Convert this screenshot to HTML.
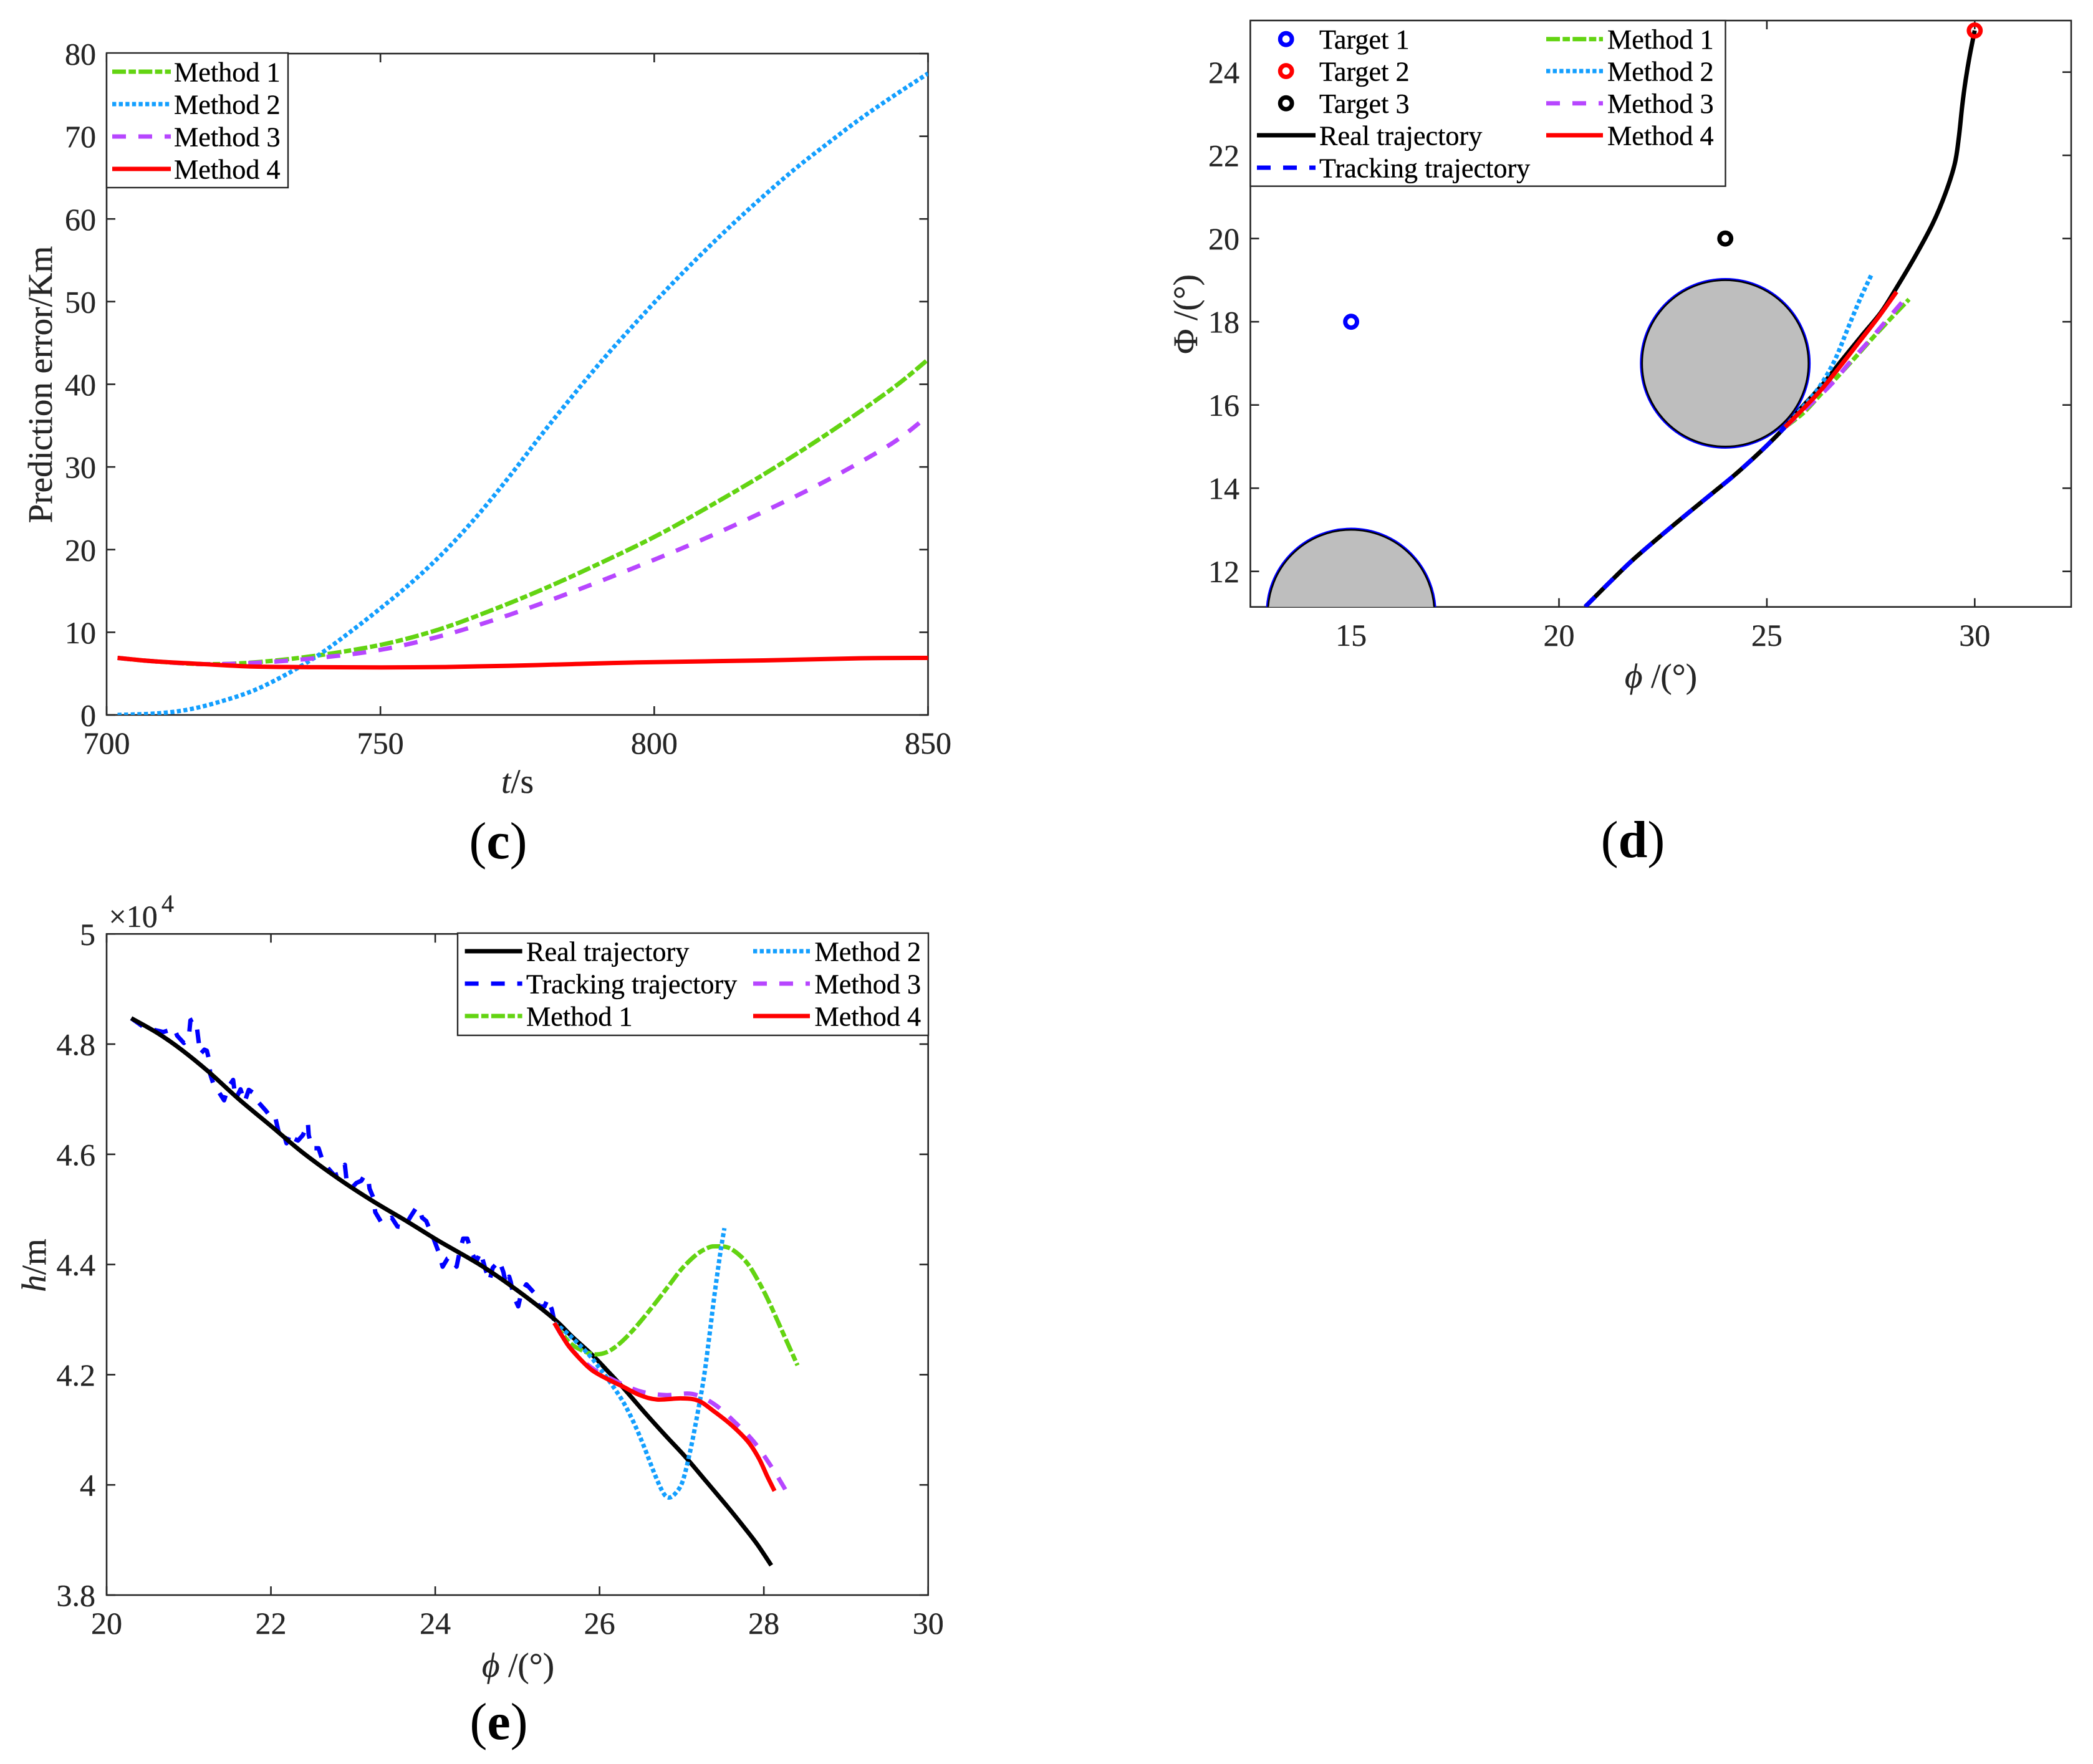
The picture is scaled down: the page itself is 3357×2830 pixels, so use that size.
<!DOCTYPE html>
<html lang="en">
<head>
<meta charset="utf-8">
<title>Prediction and trajectory comparison charts</title>
<style>
html,body{margin:0;padding:0;background:#fff;}
svg{display:block;}
text{font-family:"Liberation Serif","DejaVu Serif",serif;fill:#262626;stroke:#262626;stroke-width:0.35;}
.tick{font-size:50px;}
.title{font-size:55px;}
.leg{font-size:44.2px;fill:#000;stroke:#000;}
.panel{font-size:84px;fill:#000;stroke:none;}
.frame{fill:none;stroke:#262626;stroke-width:2.6;}
.legbox{fill:#fff;stroke:#262626;stroke-width:2.4;}
.m1{stroke:#63D412;stroke-dasharray:22 4.3 11.7 4.3;}
.m2{stroke:#139FFF;stroke-dasharray:6.4 4.2;}
.m3{stroke:#B746FF;stroke-dasharray:22 20;}
.m4{stroke:#FF0000;}
.real{stroke:#000;}
.track{stroke:#0000FF;stroke-dasharray:22 20;}
.ll{stroke-width:7;fill:none;}
.mk{fill:none;stroke-width:7;}
</style>
</head>
<body>
<svg id="figure" xmlns="http://www.w3.org/2000/svg" width="3357" height="2830" viewBox="0 0 3357 2830">
<rect x="0" y="0" width="3357" height="2830" fill="#fff"/>
<defs>
<clipPath id="clip-c"><rect x="171" y="86" width="1317.5" height="1061"/></clipPath>
<clipPath id="clip-d"><rect x="2005.5" y="33" width="1316.5" height="940.7"/></clipPath>
<clipPath id="clip-e"><rect x="171" y="1498.3" width="1317.7" height="1060.7"/></clipPath>
</defs>

<g id="chart-c">
  <rect class="frame" x="171" y="86" width="1317.5" height="1061"/>
  <g id="c-axis"></g>
  <g id="c-marks" clip-path="url(#clip-c)"></g>
  <text class="title" x="830" y="1272" text-anchor="middle"><tspan font-style="italic">t</tspan>/s</text>
  <text class="title" transform="translate(83,617) rotate(-90)" text-anchor="middle">Prediction error/Km</text>
  <g>
    <rect class="legbox" x="171" y="85" width="291" height="216"/>
    <line class="ll m1" x1="180" x2="274" y1="115" y2="115"/>
    <text class="leg" x="279" y="130.5">Method 1</text>
    <line class="ll m2" x1="180" x2="274" y1="167" y2="167"/>
    <text class="leg" x="279" y="182.5">Method 2</text>
    <line class="ll m3" x1="180" x2="274" y1="219" y2="219"/>
    <text class="leg" x="279" y="234.5">Method 3</text>
    <line class="ll m4" x1="180" x2="274" y1="271" y2="271"/>
    <text class="leg" x="279" y="286.5">Method 4</text>
  </g>
  <text class="panel" x="799" y="1377" text-anchor="middle">(<tspan font-weight="bold">c</tspan>)</text>
</g>

<g id="chart-d">
  <rect class="frame" x="2005.5" y="33" width="1316.5" height="940.7"/>
  <g id="d-axis"></g>
  <g id="d-marks" clip-path="url(#clip-d)"></g>
  <text class="title" x="2664" y="1103" text-anchor="middle"><tspan font-style="italic">ϕ</tspan> /(°)</text>
  <text class="title" transform="translate(1920,504) rotate(-90)" text-anchor="middle">Φ /(°)</text>
  <g>
    <rect class="legbox" x="2005.5" y="33" width="762" height="265.7"/>
    <circle class="mk" cx="2062.7" cy="62.7" r="9.4" stroke="#0000FF"/>
    <text class="leg" x="2116" y="78">Target 1</text>
    <circle class="mk" cx="2062.7" cy="114" r="9.4" stroke="#FF0000"/>
    <text class="leg" x="2116" y="129.5">Target 2</text>
    <circle class="mk" cx="2062.7" cy="165.7" r="9.4" stroke="#000"/>
    <text class="leg" x="2116" y="181">Target 3</text>
    <line class="ll real" x1="2016" x2="2110" y1="217" y2="217"/>
    <text class="leg" x="2116" y="232.5">Real trajectory</text>
    <line class="ll track" x1="2016" x2="2110" y1="269" y2="269"/>
    <text class="leg" x="2116" y="284.5">Tracking trajectory</text>
    <line class="ll m1" x1="2480" x2="2571" y1="62.7" y2="62.7"/>
    <text class="leg" x="2578" y="78">Method 1</text>
    <line class="ll m2" x1="2480" x2="2571" y1="114" y2="114"/>
    <text class="leg" x="2578" y="129.5">Method 2</text>
    <line class="ll m3" x1="2480" x2="2571" y1="165.7" y2="165.7"/>
    <text class="leg" x="2578" y="181">Method 3</text>
    <line class="ll m4" x1="2480" x2="2571" y1="217" y2="217"/>
    <text class="leg" x="2578" y="232.5">Method 4</text>
  </g>
  <text class="panel" x="2619" y="1375" text-anchor="middle">(<tspan font-weight="bold">d</tspan>)</text>
</g>

<g id="chart-e">
  <rect class="frame" x="171" y="1498.3" width="1317.7" height="1060.7"/>
  <g id="e-axis"></g>
  <g id="e-marks" clip-path="url(#clip-e)"></g>
  <text class="title" x="831" y="2690" text-anchor="middle"><tspan font-style="italic">ϕ</tspan> /(°)</text>
  <text class="title" transform="translate(73,2030) rotate(-90)" text-anchor="middle"><tspan font-style="italic">h</tspan>/m</text>
  <text class="tick" x="174.5" y="1487">×10</text>
  <text x="259" y="1463" font-size="40">4</text>
  <g>
    <rect class="legbox" x="734" y="1497" width="755" height="164"/>
    <line class="ll real" x1="745.6" x2="837.6" y1="1526" y2="1526"/>
    <text class="leg" x="844" y="1541.5">Real trajectory</text>
    <line class="ll track" x1="745.6" x2="837.6" y1="1578" y2="1578"/>
    <text class="leg" x="844" y="1593.5">Tracking trajectory</text>
    <line class="ll m1" x1="745.6" x2="837.6" y1="1630" y2="1630"/>
    <text class="leg" x="844" y="1645.5">Method 1</text>
    <line class="ll m2" x1="1208" x2="1299" y1="1526" y2="1526"/>
    <text class="leg" x="1306.5" y="1541.5">Method 2</text>
    <line class="ll m3" x1="1208" x2="1299" y1="1578" y2="1578"/>
    <text class="leg" x="1306.5" y="1593.5">Method 3</text>
    <line class="ll m4" x1="1208" x2="1299" y1="1630" y2="1630"/>
    <text class="leg" x="1306.5" y="1645.5">Method 4</text>
  </g>
  <text class="panel" x="800" y="2790" text-anchor="middle">(<tspan font-weight="bold">e</tspan>)</text>
</g>
</svg>

<script>
// ----- Chart (c): prediction error over time -----
var cXTicks = [700, 750, 800, 850];
var cYTicks = [0, 10, 20, 30, 40, 50, 60, 70, 80];
var cM1T = [702, 708.4, 717.7, 727, 738.6, 750.2, 759.5, 767.7, 779.3, 790.9, 800.2, 808.4, 820, 831.6, 843.3, 850];
var cM1E = [6.9, 6.5, 6.15, 6.36, 7.2, 8.5, 10.1, 12, 15.1, 18.6, 21.6, 24.6, 29.1, 34, 39.4, 43];
var cM2T = [702, 709.5, 715.3, 721.2, 727, 732.8, 738.6, 744.4, 750.2, 756, 761.9, 767.7, 773.5, 779.3, 785.1, 790.9, 796.7, 802.6, 808.4, 814.2, 820, 825.8, 831.6, 837.4, 843.3, 850];
var cM2E = [0, 0.2, 0.7, 1.7, 3, 4.9, 7.2, 10, 13, 16.2, 19.9, 24.1, 28.8, 33.8, 38.6, 43.2, 47.5, 51.7, 55.6, 59.3, 62.8, 66.1, 69.1, 72, 74.7, 77.6];
var cM3T = [702, 708.4, 717.7, 727, 738.6, 750.2, 761.9, 773.5, 785.1, 796.7, 808.4, 820, 831.6, 843.3, 850];
var cM3E = [6.9, 6.5, 6.15, 6.3, 6.9, 7.9, 9.7, 12.1, 14.9, 17.9, 21.1, 24.6, 28.4, 32.8, 36.2];
var cM4T = [702, 708.4, 717.7, 727, 738.6, 750.2, 761.9, 773.5, 785, 796.7, 820, 837.4, 850];
var cM4E = [6.9, 6.5, 6.15, 5.85, 5.78, 5.75, 5.8, 5.95, 6.15, 6.35, 6.6, 6.85, 6.9];

// ----- Chart (d): ground track -----
var dXTicks = [15, 20, 25, 30];
var dYTicks = [12, 14, 16, 18, 20, 22, 24];
var dTargetNames = ['target-1', 'target-3', 'target-2'];
var dTargetLon = [15, 24, 30];
var dTargetLat = [18, 20, 25];
var dTargetColors = ['#0000FF', '#000000', '#FF0000'];
var dZoneLon = [15, 24];
var dZoneLat = [11, 17];
var dZoneRadius = [2, 2];
var dRealX = [20.63, 21.2, 21.78, 22.5, 23.2, 23.74, 24.24, 24.89, 25.39, 25.8, 26.34, 26.79, 27.27, 27.74, 28.09, 28.56, 28.99, 29.3, 29.52, 29.62, 29.7, 29.78, 29.88, 30];
var dRealY = [11.15, 11.72, 12.28, 12.9, 13.48, 13.92, 14.33, 14.92, 15.42, 15.9, 16.49, 17.06, 17.65, 18.22, 18.77, 19.56, 20.36, 21.1, 21.8, 22.45, 23.2, 23.8, 24.4, 25];
var dTrackX = [20.63, 21.2, 21.78, 22.5, 23.2, 23.74, 24.24, 24.89, 25.39, 25.44];
var dTrackY = [11.15, 11.72, 12.28, 12.9, 13.48, 13.92, 14.33, 14.92, 15.42, 15.47];
var dM1X = [25.44, 25.89, 26.29, 26.72, 27.15, 27.57, 27.99, 28.42];
var dM1Y = [15.47, 15.82, 16.25, 16.7, 17.17, 17.64, 18.09, 18.54];
var dM2X = [25.44, 25.81, 26.04, 26.32, 26.64, 26.94, 27.24, 27.52];
var dM2Y = [15.47, 15.89, 16.15, 16.52, 17.09, 17.82, 18.54, 19.14];
var dM3X = [25.44, 26.14, 26.59, 26.99, 27.44, 27.84, 28.27];
var dM3Y = [15.47, 16.1, 16.54, 17.02, 17.52, 17.99, 18.49];
var dM4X = [25.44, 26.24, 26.74, 27.24, 27.69, 28.12];
var dM4Y = [15.47, 16.29, 16.9, 17.54, 18.12, 18.72];

// ----- Chart (e): altitude profile (h in units of 10^4 m) -----
var eXTicks = [20, 22, 24, 26, 28, 30];
var eYTicks = [3.8, 4, 4.2, 4.4, 4.6, 4.8, 5];
var eRealX = [20.3, 20.62, 20.91, 21.24, 21.61, 22.02, 22.38, 22.82, 23.23, 23.67, 24.04, 24.55, 24.99, 25.44, 25.66, 25.91, 26.09, 26.29, 26.54, 26.8, 27.05, 27.3, 27.56, 27.76, 27.92, 28.09];
var eRealY = [4.847, 4.82, 4.79, 4.75, 4.7, 4.649, 4.604, 4.556, 4.516, 4.477, 4.443, 4.399, 4.354, 4.302, 4.27, 4.236, 4.208, 4.176, 4.133, 4.09, 4.05, 4.006, 3.96, 3.923, 3.892, 3.854];
var eTrackX = [20.3, 20.45, 20.6, 20.69, 20.78, 20.82, 20.86, 20.94, 21, 21.02, 21.06, 21.1, 21.12, 21.14, 21.19, 21.22, 21.25, 21.26, 21.31, 21.37, 21.43, 21.48, 21.54, 21.57, 21.63, 21.68, 21.73, 21.78, 21.85, 21.94, 22, 22.05, 22.09, 22.11, 22.16, 22.19, 22.24, 22.27, 22.33, 22.39, 22.45, 22.46, 22.5, 22.58, 22.63, 22.7, 22.77, 22.86, 22.9, 22.92, 22.99, 23.04, 23.1, 23.14, 23.19, 23.2, 23.25, 23.27, 23.35, 23.47, 23.54, 23.62, 23.7, 23.76, 23.8, 23.84, 23.89, 23.94, 23.98, 24.04, 24.09, 24.15, 24.19, 24.26, 24.3, 24.34, 24.39, 24.44, 24.5, 24.55, 24.61, 24.66, 24.7, 24.78, 24.83, 24.86, 24.9, 24.92, 24.95, 25.01, 25.05, 25.11, 25.22, 25.26, 25.33, 25.37, 25.42, 25.45];
var eTrackY = [4.847, 4.831, 4.825, 4.822, 4.826, 4.829, 4.815, 4.802, 4.811, 4.843, 4.846, 4.829, 4.805, 4.782, 4.79, 4.788, 4.77, 4.746, 4.723, 4.712, 4.698, 4.722, 4.735, 4.7, 4.718, 4.695, 4.717, 4.712, 4.694, 4.679, 4.667, 4.669, 4.643, 4.629, 4.635, 4.62, 4.639, 4.629, 4.625, 4.635, 4.657, 4.635, 4.611, 4.611, 4.588, 4.574, 4.562, 4.566, 4.581, 4.554, 4.54, 4.548, 4.552, 4.562, 4.55, 4.538, 4.52, 4.495, 4.475, 4.485, 4.469, 4.467, 4.487, 4.501, 4.504, 4.485, 4.479, 4.461, 4.447, 4.423, 4.396, 4.411, 4.413, 4.396, 4.425, 4.447, 4.447, 4.423, 4.405, 4.423, 4.392, 4.37, 4.394, 4.407, 4.386, 4.364, 4.378, 4.368, 4.344, 4.324, 4.35, 4.364, 4.346, 4.324, 4.324, 4.338, 4.318, 4.297];
var eM1X = [25.45, 25.63, 25.79, 25.94, 26.09, 26.24, 26.39, 26.54, 26.7, 26.85, 27, 27.18, 27.33, 27.43, 27.56, 27.68, 27.81, 27.94, 28.06, 28.19, 28.31, 28.41];
var eM1Y = [4.294, 4.259, 4.244, 4.237, 4.241, 4.256, 4.278, 4.304, 4.334, 4.363, 4.392, 4.418, 4.431, 4.433, 4.431, 4.42, 4.4, 4.368, 4.333, 4.29, 4.25, 4.217];
var eM2X = [25.45, 25.63, 25.86, 26.01, 26.14, 26.29, 26.42, 26.54, 26.67, 26.77, 26.84, 26.92, 27.01, 27.1, 27.18, 27.27, 27.34, 27.4, 27.47, 27.52];
var eM2Y = [4.294, 4.272, 4.238, 4.21, 4.184, 4.15, 4.112, 4.07, 4.02, 3.987, 3.977, 3.984, 4.006, 4.059, 4.119, 4.195, 4.274, 4.346, 4.421, 4.466];
var eM3X = [25.45, 25.63, 25.89, 26.19, 26.49, 26.8, 27.13, 27.4, 27.66, 27.88, 28.07, 28.24, 28.28];
var eM3Y = [4.294, 4.251, 4.214, 4.189, 4.17, 4.163, 4.165, 4.146, 4.112, 4.078, 4.038, 3.997, 3.985];
var eM4X = [25.45, 25.61, 25.76, 25.91, 26.11, 26.29, 26.49, 26.7, 27, 27.2, 27.38, 27.61, 27.81, 27.94, 28.04, 28.13];
var eM4Y = [4.294, 4.255, 4.229, 4.208, 4.191, 4.178, 4.163, 4.155, 4.157, 4.153, 4.135, 4.108, 4.078, 4.048, 4.016, 3.989];

var SVG_NS = 'http://www.w3.org/2000/svg';

// axis functions: data value -> pixel
function cx(v) { return 171 + (v - 700) / 150 * 1317.5; }
function cy(v) { return 1147 - v / 80 * 1061; }
function dx(v) { return 3167.3 + (v - 30) * 66.68; }
function dy(v) { return 916.7 - (v - 12) * 66.75; }
function ex(v) { return 171 + (v - 20) / 10 * 1317.7; }
function ey(v) { return 2559 - (v - 3.8) / 1.2 * 1060.7; }

function make(tag, parent) {
  var node = document.createElementNS(SVG_NS, tag);
  parent.appendChild(node);
  return node;
}

function smoothPath(xs, ys, fx, fy) {
  var p = xs.map(function (x, i) { return [fx(x), fy(ys[i])]; });
  var d = 'M' + p[0][0].toFixed(2) + ' ' + p[0][1].toFixed(2);
  for (var i = 0; i < p.length - 1; i++) {
    var p0 = p[Math.max(i - 1, 0)], p1 = p[i], p2 = p[i + 1], p3 = p[Math.min(i + 2, p.length - 1)];
    var c1x = p1[0] + (p2[0] - p0[0]) / 6, c1y = p1[1] + (p2[1] - p0[1]) / 6;
    var c2x = p2[0] - (p3[0] - p1[0]) / 6, c2y = p2[1] - (p3[1] - p1[1]) / 6;
    d += 'C' + c1x.toFixed(2) + ' ' + c1y.toFixed(2) + ' ' + c2x.toFixed(2) + ' ' + c2y.toFixed(2) + ' ' + p2[0].toFixed(2) + ' ' + p2[1].toFixed(2);
  }
  return d;
}

function straightPath(xs, ys, fx, fy) {
  return xs.map(function (x, i) { return (i ? 'L' : 'M') + fx(x).toFixed(2) + ' ' + fy(ys[i]).toFixed(2); }).join('');
}

function drawSeries(parent, name, cls, d) {
  var path = make('path', parent);
  
  
  path.setAttribute('class', cls);
  path.setAttribute('d', d);
  path.setAttribute('fill', 'none');
  path.setAttribute('stroke-width', '7');
  path.setAttribute('stroke-linejoin', 'round');
  return path;
}

function drawAxes(parent, xTicks, yTicks, fx, fy, box, xLabelY, yLabelX) {
  xTicks.forEach(function (v) {
    var bottomTick = make('line', parent);
    
    
    bottomTick.setAttribute('x1', fx(v)); bottomTick.setAttribute('x2', fx(v));
    bottomTick.setAttribute('y1', box.b); bottomTick.setAttribute('y2', box.b - 14);
    bottomTick.setAttribute('stroke', '#262626'); bottomTick.setAttribute('stroke-width', '2.6');
    var topTick = make('line', parent);
    
    
    topTick.setAttribute('x1', fx(v)); topTick.setAttribute('x2', fx(v));
    topTick.setAttribute('y1', box.t); topTick.setAttribute('y2', box.t + 14);
    topTick.setAttribute('stroke', '#262626'); topTick.setAttribute('stroke-width', '2.6');
    var label = make('text', parent);
    
    
    label.setAttribute('class', 'tick');
    label.setAttribute('x', fx(v));
    label.setAttribute('y', xLabelY);
    label.setAttribute('text-anchor', 'middle');
    label.textContent = String(v);
  });
  yTicks.forEach(function (v) {
    var leftTick = make('line', parent);
    
    
    leftTick.setAttribute('x1', box.l); leftTick.setAttribute('x2', box.l + 14);
    leftTick.setAttribute('y1', fy(v)); leftTick.setAttribute('y2', fy(v));
    leftTick.setAttribute('stroke', '#262626'); leftTick.setAttribute('stroke-width', '2.6');
    var rightTick = make('line', parent);
    
    
    rightTick.setAttribute('x1', box.r); rightTick.setAttribute('x2', box.r - 14);
    rightTick.setAttribute('y1', fy(v)); rightTick.setAttribute('y2', fy(v));
    rightTick.setAttribute('stroke', '#262626'); rightTick.setAttribute('stroke-width', '2.6');
    var label = make('text', parent);
    
    
    label.setAttribute('class', 'tick');
    label.setAttribute('x', yLabelX);
    label.setAttribute('y', fy(v) + 17.5);
    label.setAttribute('text-anchor', 'end');
    label.textContent = String(v);
  });
}

// Chart (c)
drawAxes(document.getElementById('c-axis'), cXTicks, cYTicks, cx, cy, { l: 171, r: 1488.5, t: 86, b: 1147 }, 1209, 154);
var cMarks = document.getElementById('c-marks');
drawSeries(cMarks, 'line-method-1', 'm1', smoothPath(cM1T, cM1E, cx, cy));
drawSeries(cMarks, 'line-method-2', 'm2', smoothPath(cM2T, cM2E, cx, cy));
drawSeries(cMarks, 'line-method-3', 'm3', smoothPath(cM3T, cM3E, cx, cy));
drawSeries(cMarks, 'line-method-4', 'm4', smoothPath(cM4T, cM4E, cx, cy));

// Chart (d)
drawAxes(document.getElementById('d-axis'), dXTicks, dYTicks, dx, dy, { l: 2005.5, r: 3322, t: 33, b: 973.7 }, 1036, 1988);
var dMarks = document.getElementById('d-marks');
dZoneLon.forEach(function (lon, i) {
  var fillCircle = make('circle', dMarks);
  
  
  fillCircle.setAttribute('cx', dx(lon));
  fillCircle.setAttribute('cy', dy(dZoneLat[i]));
  fillCircle.setAttribute('r', dZoneRadius[i] * 66.7);
  fillCircle.setAttribute('fill', '#BEBEBE');
  var blueRing = make('circle', dMarks);
  
  
  blueRing.setAttribute('cx', dx(lon));
  blueRing.setAttribute('cy', dy(dZoneLat[i]));
  blueRing.setAttribute('r', dZoneRadius[i] * 66.7 + 2);
  blueRing.setAttribute('fill', 'none');
  blueRing.setAttribute('stroke', '#0000FF');
  blueRing.setAttribute('stroke-width', '3');
  var blackRing = make('circle', dMarks);
  
  
  blackRing.setAttribute('cx', dx(lon));
  blackRing.setAttribute('cy', dy(dZoneLat[i]));
  blackRing.setAttribute('r', dZoneRadius[i] * 66.7);
  blackRing.setAttribute('fill', 'none');
  blackRing.setAttribute('stroke', '#000');
  blackRing.setAttribute('stroke-width', '2.6');
});
drawSeries(dMarks, 'line-real-trajectory', 'real', smoothPath(dRealX, dRealY, dx, dy));
drawSeries(dMarks, 'line-tracking-trajectory', 'track', smoothPath(dTrackX, dTrackY, dx, dy));
drawSeries(dMarks, 'line-method-1', 'm1', smoothPath(dM1X, dM1Y, dx, dy));
drawSeries(dMarks, 'line-method-2', 'm2', smoothPath(dM2X, dM2Y, dx, dy));
drawSeries(dMarks, 'line-method-3', 'm3', smoothPath(dM3X, dM3Y, dx, dy));
drawSeries(dMarks, 'line-method-4', 'm4', smoothPath(dM4X, dM4Y, dx, dy));
dTargetLon.forEach(function (lon, i) {
  var target = make('circle', dMarks);
  
  
  target.setAttribute('cx', dx(lon));
  target.setAttribute('cy', dy(dTargetLat[i]));
  target.setAttribute('r', '9.4');
  target.setAttribute('fill', 'none');
  target.setAttribute('stroke', dTargetColors[i]);
  target.setAttribute('stroke-width', '7');
});

// Chart (e)
drawAxes(document.getElementById('e-axis'), eXTicks, eYTicks, ex, ey, { l: 171, r: 1488.7, t: 1498.3, b: 2559 }, 2621, 153);
var eMarks = document.getElementById('e-marks');
drawSeries(eMarks, 'line-tracking-trajectory', 'track', straightPath(eTrackX, eTrackY, ex, ey));
drawSeries(eMarks, 'line-real-trajectory', 'real', smoothPath(eRealX, eRealY, ex, ey));
drawSeries(eMarks, 'line-method-1', 'm1', smoothPath(eM1X, eM1Y, ex, ey));
drawSeries(eMarks, 'line-method-2', 'm2', smoothPath(eM2X, eM2Y, ex, ey));
drawSeries(eMarks, 'line-method-3', 'm3', smoothPath(eM3X, eM3Y, ex, ey));
drawSeries(eMarks, 'line-method-4', 'm4', smoothPath(eM4X, eM4Y, ex, ey));
</script>
</body>
</html>
